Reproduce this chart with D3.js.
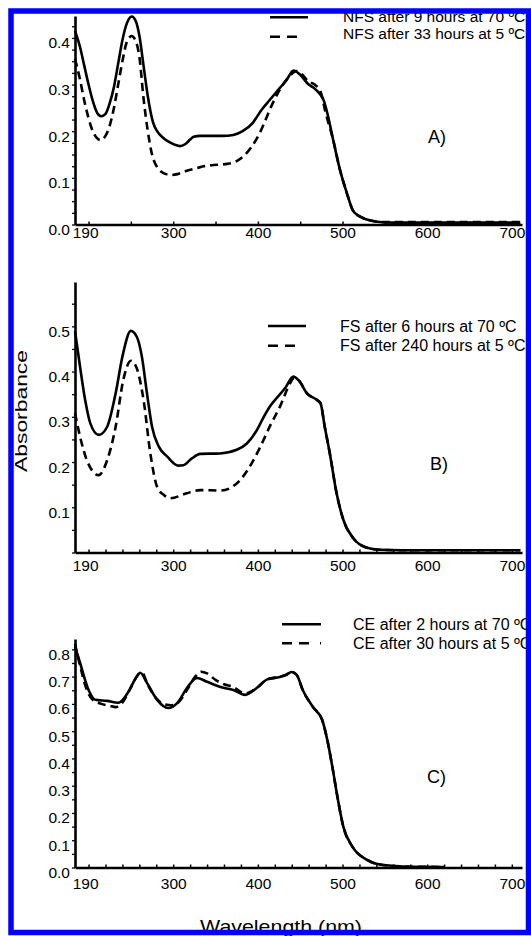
<!DOCTYPE html>
<html><head><meta charset="utf-8">
<script src="https://cdn.jsdelivr.net/npm/d3@7"></script>
<style>
body{margin:0;background:#fff}
svg{display:block}
text{font-family:"Liberation Sans",Arial,Helvetica,sans-serif;fill:#000}
</style>
</head><body>
<svg id="c" width="531" height="936"></svg>
<script>
// ---------- data ----------
const xTickValues = [190, 300, 400, 500, 600, 700];
const yTicksA = [0, 0.1, 0.2, 0.3, 0.4];
const yTicksB = [0.1, 0.2, 0.3, 0.4, 0.5];
const yTicksC = [0, 0.1, 0.2, 0.3, 0.4, 0.5, 0.6, 0.7, 0.8];

// Panel A: NFS
const wlA1 = [184,190,195,200,205,210,215,220,225,230,235,240,245,251,256,260,265,270,276,281,288,295,302,308,314,320,324,332,345,358,371,382,394,404,414,426,434,442,450,460,466,474,478,482,489,497,505,512,518,524,532,541,560,600,650,710];
const absA1 = [0.415,0.38,0.34,0.3,0.265,0.24,0.232,0.237,0.26,0.295,0.345,0.395,0.43,0.446,0.435,0.405,0.34,0.275,0.22,0.2,0.186,0.177,0.171,0.168,0.172,0.182,0.188,0.19,0.19,0.19,0.192,0.2,0.218,0.245,0.267,0.293,0.31,0.33,0.321,0.3,0.293,0.278,0.265,0.239,0.181,0.117,0.068,0.031,0.02,0.014,0.009,0.006,0.004,0.004,0.004,0.004];
const wlA2 = [184,190,195,200,205,210,214,220,225,230,235,240,245,251,256,260,265,270,275,281,286,290,297,305,316,328,340,352,364,375,385,392,399,407,414,426,436,446,452,460,467,474,480,489,497,505,512,518,524,532,541,560,600,650,710];
const absA2 = [0.355,0.31,0.265,0.228,0.2,0.185,0.181,0.19,0.212,0.25,0.3,0.35,0.39,0.404,0.392,0.36,0.27,0.2,0.15,0.123,0.113,0.109,0.106,0.108,0.115,0.121,0.126,0.128,0.13,0.136,0.15,0.165,0.185,0.215,0.246,0.289,0.315,0.329,0.322,0.306,0.3,0.285,0.24,0.181,0.117,0.068,0.031,0.02,0.014,0.009,0.006,0.005,0.005,0.005,0.005];

// Panel B: FS
const wlB1 = [184,190,196,202,212,222,232,240,250,257,263,269,275,283,293,306,312,322,332,355,375,387,399,407,415,422,432,442,448,458,470,474,479,485,493,501,513,528,544,570,620,680,710];
const absB1 = [0.49,0.41,0.337,0.286,0.26,0.278,0.352,0.433,0.49,0.477,0.433,0.352,0.278,0.234,0.212,0.192,0.193,0.208,0.218,0.219,0.227,0.241,0.271,0.3,0.325,0.341,0.363,0.389,0.381,0.352,0.337,0.33,0.278,0.219,0.131,0.072,0.031,0.011,0.006,0.005,0.005,0.005,0.005];
const wlB2 = [184,190,198,212,222,232,241,250,257,265,273,281,289,297,316,332,356,379,392,399,403,415,426,438,442,448,458,470,474,479,485,493,501,513,528,544,570,620,680,710];
const absB2 = [0.308,0.256,0.204,0.171,0.204,0.278,0.381,0.424,0.407,0.337,0.219,0.145,0.127,0.12,0.131,0.138,0.137,0.16,0.195,0.219,0.234,0.282,0.322,0.374,0.385,0.381,0.352,0.337,0.33,0.278,0.219,0.131,0.072,0.031,0.011,0.006,0.005,0.005,0.005,0.005];

// Panel C: CE
const wlC1 = [184,190,200,208,222,235,247,254,261,269,281,294,305,317,328,340,356,371,385,399,411,426,433,440,446,453,465,476,482,488,494,501,512,529,548,580,620];
const absC1 = [0.81,0.75,0.651,0.615,0.611,0.604,0.644,0.685,0.714,0.677,0.615,0.585,0.604,0.662,0.695,0.681,0.662,0.651,0.633,0.659,0.69,0.699,0.706,0.717,0.706,0.651,0.589,0.541,0.468,0.369,0.259,0.149,0.075,0.028,0.009,0.003,0.002];
const wlC2 = [184,190,197,205,215,225,232,240,250,258,263,270,280,290,298,306,316,326,333,340,350,360,370,385,399,411,426,433,440,446,453,465,476,482,488,494,501,512,529,548,580,620];
const absC2 = [0.82,0.74,0.66,0.615,0.6,0.593,0.588,0.605,0.66,0.705,0.715,0.67,0.62,0.598,0.595,0.605,0.65,0.7,0.718,0.712,0.688,0.672,0.663,0.638,0.659,0.69,0.699,0.706,0.717,0.706,0.651,0.589,0.541,0.468,0.369,0.259,0.149,0.075,0.028,0.009,0.003,0.002];

const legendA = ["NFS after 9 hours at 70 ºC", "NFS after 33 hours at 5 ºC"];
const legendB = ["FS after 6 hours at 70 ºC", "FS after 240 hours at 5 ºC"];
const legendC = ["CE after 2 hours at 70 ºC", "CE after 30 hours at 5 ºC"];
const panelTags = ["A)", "B)", "C)"];

// ---------- drawing ----------
const svg = d3.select("#c");
svg.append("rect").attr("width", 531).attr("height", 936).attr("fill", "#fff");

const x = d3.scaleLinear().domain([184, 712]).range([75, 522]);

const panels = [
  { y: d3.scaleLinear().domain([0, 0.447]).range([224.5, 16]), yTicks: yTicksA, yMinorStep: 0.025, xMinorStep: 50,
    xLabelY: 13.5, series: [[wlA1, absA1], [wlA2, absA2]], legend: legendA, legFont: "15.5px",
    leg: { x0: 270, x1: 308, tx: 343, ly: [17.3, 36.7], ty: [22, 38.5] }, tag: panelTags[0], tagPos: [428, 143] },
  { y: d3.scaleLinear().domain([0, 0.598]).range([552.5, 282]), yTicks: yTicksB, yMinorStep: 0.05, xMinorStep: 20,
    xLabelY: 18, series: [[wlB1, absB1], [wlB2, absB2]], legend: legendB, legFont: "16px",
    leg: { x0: 268, x1: 306, tx: 340, ly: [326, 345.7], ty: [332, 350.5] }, tag: panelTags[1], tagPos: [430, 470] },
  { y: d3.scaleLinear().domain([0, 0.838]).range([867.5, 639]), yTicks: yTicksC, yMinorStep: 0.05, xMinorStep: 20,
    xLabelY: 21, series: [[wlC1, absC1], [wlC2, absC2]], legend: legendC, legFont: "16px",
    leg: { x0: 282, x1: 321, tx: 353, ly: [624.3, 643.3], ty: [630, 648.5] }, tag: panelTags[2], tagPos: [427, 783] }
];

const tickFont = "15.5px";

panels.forEach(p => {
  const g = svg.append("g");
  const y = p.y;
  const y0 = y(0);

  // minor x ticks (inward)
  const xMinor = d3.range(200, 701, p.xMinorStep);
  g.append("g").attr("transform", `translate(0,${y0})`)
    .call(d3.axisBottom(x).tickValues(xMinor).tickSizeInner(-3).tickSizeOuter(0).tickFormat(""))
    .call(a => a.select(".domain").remove())
    .call(a => a.selectAll("line").attr("stroke", "#000").attr("stroke-width", 1.5));

  // minor y ticks (outward)
  const yMax = y.domain()[1];
  const yMinor = d3.range(0, yMax + 1e-9, p.yMinorStep);
  g.append("g").attr("transform", `translate(${x(184)},0)`)
    .call(d3.axisLeft(y).tickValues(yMinor).tickSizeInner(3).tickSizeOuter(0).tickFormat(""))
    .call(a => a.select(".domain").remove())
    .call(a => a.selectAll("line").attr("stroke", "#000").attr("stroke-width", 1.3));

  // x axis
  g.append("g").attr("transform", `translate(0,${y0})`)
    .call(d3.axisBottom(x).tickValues(xTickValues).tickSize(0).tickFormat(d3.format("d")))
    .call(a => a.select(".domain").attr("stroke", "#000").attr("stroke-width", 2.6))
    .call(a => a.selectAll("text")
      .attr("y", p.xLabelY).attr("dy", 0)
      .attr("dx", d => d === 190 ? 5 : 0)
      .style("font-size", tickFont).attr("fill", "#000")
      .attr("font-family", "Liberation Sans, Arial, sans-serif"));

  // y axis
  g.append("g").attr("transform", `translate(${x(184)},0)`)
    .call(d3.axisLeft(y).tickValues(p.yTicks).tickSize(0).tickPadding(5).tickFormat(d3.format(".1f")))
    .call(a => a.select(".domain").attr("stroke", "#000").attr("stroke-width", 2.6))
    .call(a => a.selectAll("text")
      .attr("y", 5)
      .style("font-size", tickFont).attr("fill", "#000")
      .attr("font-family", "Liberation Sans, Arial, sans-serif"));

  // curves
  const line = d3.line().x(d => x(d[0])).y(d => y(d[1])).curve(d3.curveMonotoneX);
  p.series.forEach((s, i) => {
    g.append("path")
      .datum(d3.zip(s[0], s[1]))
      .attr("d", line)
      .attr("fill", "none")
      .attr("stroke", "#000")
      .attr("stroke-width", 2.6)
      .attr("stroke-linejoin", "round")
      .attr("stroke-dasharray", i === 1 ? "8,5" : null);
  });

  // legend
  p.legend.forEach((t, i) => {
    g.append("line")
      .attr("x1", p.leg.x0).attr("x2", p.leg.x1)
      .attr("y1", p.leg.ly[i]).attr("y2", p.leg.ly[i])
      .attr("stroke", "#000").attr("stroke-width", 2.6)
      .attr("stroke-dasharray", i === 1 ? "10,7,10,11,2" : null);
    g.append("text")
      .attr("x", p.leg.tx).attr("y", p.leg.ty[i])
      .style("font-size", p.legFont)
      .text(t);
  });

  // panel tag
  g.append("text").attr("x", p.tagPos[0]).attr("y", p.tagPos[1])
    .style("font-size", "18px").text(p.tag);
});

// axis titles
svg.append("text")
  .attr("transform", "translate(26.5,411) rotate(-90)")
  .attr("text-anchor", "middle")
  .attr("textLength", 122).attr("lengthAdjust", "spacingAndGlyphs")
  .style("font-size", "17px")
  .text("Absorbance");

svg.append("text")
  .attr("x", 281).attr("y", 933)
  .attr("text-anchor", "middle")
  .attr("textLength", 162).attr("lengthAdjust", "spacingAndGlyphs")
  .style("font-size", "19px")
  .text("Wavelength (nm)");

// blue frame on top
svg.append("rect")
  .attr("x", 11).attr("y", 11)
  .attr("width", 517.5).attr("height", 921.5)
  .attr("fill", "none")
  .attr("stroke", "#0000ff")
  .attr("stroke-width", 5.5);
</script>
</body></html>
